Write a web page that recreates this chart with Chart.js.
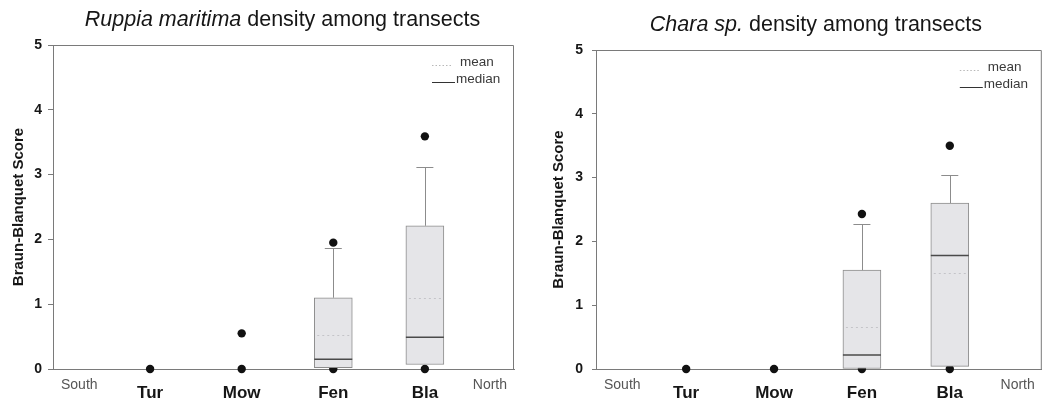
<!DOCTYPE html>
<html>
<head>
<meta charset="utf-8">
<script src="https://cdn.jsdelivr.net/npm/chart.js@4/dist/chart.umd.min.js"></script>
<style>
  html, body { margin: 0; padding: 0; background: #fff; }
  #wrap { position: relative; width: 1046px; height: 403px; overflow: hidden; }
  canvas { position: absolute; top: 0; }
</style>
</head>
<body>
<div id="wrap">
  <canvas id="ruppia" width="520" height="403" style="left:0"></canvas>
  <canvas id="chara" width="526" height="403" style="left:520px"></canvas>
</div>
<script>
// Transects, ordered south to north
const categories = ['Tur', 'Mow', 'Fen', 'Bla'];
const transectEnds = ['South', 'North'];
const scoreTicks = [0, 1, 2, 3, 4, 5];

// Ruppia maritima: Braun-Blanquet score summary per transect
const ruppiaQ1 = [0, 0, 0.02, 0.07];
const ruppiaMedian = [0, 0, 0.15, 0.49];
const ruppiaQ3 = [0, 0, 1.10, 2.21];
const ruppiaWhiskerTop = [0, 0, 1.86, 3.11];
const ruppiaMean = [0, 0.04, 0.52, 1.10];
const ruppiaOutliers = [[0], [0, 0.55], [0, 1.95], [0, 3.59]];

// Chara sp.: Braun-Blanquet score summary per transect
const charaQ1 = [0, 0, 0, 0.04];
const charaMedian = [0, 0, 0.22, 1.78];
const charaQ3 = [0, 0, 1.55, 2.60];
const charaWhiskerTop = [0, 0, 2.27, 3.04];
const charaMean = [0, 0, 0.66, 1.50];
const charaOutliers = [[0], [0], [0, 2.43], [0, 3.50]];

const FONT = "'Liberation Sans', Arial, sans-serif";
const INK = '#161616';
const AXIS = '#7a7a7a';

// Whiskers, caps, medians, means, frame, title, legend and end labels
const boxExtras = {
  id: 'boxExtras',
  afterDatasetsDraw(chart, args, o) {
    const { ctx, chartArea: a } = chart;
    const x = chart.scales.x, y = chart.scales.y;
    ctx.save();
    categories.forEach((c, i) => {
      const px = x.getPixelForValue(i + 1);
      const half = o.boxWidth / 2;
      if (o.q3[i] > o.q1[i]) {
        // upper whisker and cap
        const yTop = y.getPixelForValue(o.whisker[i]);
        const yQ3 = y.getPixelForValue(o.q3[i]);
        ctx.strokeStyle = '#8c8c8c';
        ctx.lineWidth = 1;
        ctx.beginPath();
        ctx.moveTo(Math.round(px) + 0.5, yQ3);
        ctx.lineTo(Math.round(px) + 0.5, yTop);
        ctx.moveTo(px - o.capWidth / 2, Math.round(yTop) + 0.5);
        ctx.lineTo(px + o.capWidth / 2, Math.round(yTop) + 0.5);
        ctx.stroke();
        // mean (dotted)
        const ym = Math.round(y.getPixelForValue(o.mean[i])) + 0.5;
        ctx.strokeStyle = '#c4c4c8';
        ctx.setLineDash([2, 3]);
        ctx.beginPath();
        ctx.moveTo(px - half + 3, ym);
        ctx.lineTo(px + half - 3, ym);
        ctx.stroke();
        ctx.setLineDash([]);
        // median
        const yMed = y.getPixelForValue(o.median[i]);
        ctx.strokeStyle = '#4a4a4a';
        ctx.lineWidth = 1.6;
        ctx.beginPath();
        ctx.moveTo(px - half, yMed);
        ctx.lineTo(px + half, yMed);
        ctx.stroke();
      }
    });
    ctx.restore();
  },
  afterDraw(chart, args, o) {
    const { ctx, chartArea: a } = chart;
    ctx.save();
    // frame top and right
    ctx.strokeStyle = AXIS;
    ctx.lineWidth = 1;
    ctx.beginPath();
    ctx.moveTo(a.left, a.top + 0.5);
    ctx.lineTo(a.right - 0.5, a.top + 0.5);
    ctx.lineTo(a.right - 0.5, a.bottom);
    ctx.stroke();

    // title: italic species name followed by regular text
    const size = o.titleSize;
    const fItal = `italic ${size}px ${FONT}`;
    const fReg = `${size}px ${FONT}`;
    ctx.font = fItal;
    const w1 = ctx.measureText(o.titleItalic).width;
    ctx.font = fReg;
    const w2 = ctx.measureText(o.titleRest).width;
    const cx = (a.left + a.right) / 2 + o.titleShift;
    let tx = cx - (w1 + w2) / 2;
    const ty = a.top - o.titleGap;
    ctx.fillStyle = INK;
    ctx.textBaseline = 'alphabetic';
    ctx.textAlign = 'left';
    ctx.font = fItal;
    ctx.fillText(o.titleItalic, tx, ty);
    ctx.font = fReg;
    ctx.fillText(o.titleRest, tx + w1, ty);

    // legend
    const lx0 = a.right - 82, lx1 = a.right - 59;
    const yMean = a.top + 21, yMed = a.top + 38;
    ctx.strokeStyle = '#b8b8b8';
    ctx.setLineDash([1.5, 2]);
    ctx.beginPath();
    ctx.moveTo(lx0, yMean - 0.5);
    ctx.lineTo(lx1 - 4, yMean - 0.5);
    ctx.stroke();
    ctx.setLineDash([]);
    ctx.strokeStyle = '#333';
    ctx.beginPath();
    ctx.moveTo(lx0, yMed - 0.5);
    ctx.lineTo(lx1, yMed - 0.5);
    ctx.stroke();
    ctx.font = `13.5px ${FONT}`;
    ctx.fillStyle = '#3a3a3a';
    ctx.fillText('mean', a.right - 54, yMean);
    ctx.fillText('median', a.right - 58, yMed);

    // transect end labels
    ctx.font = `14px ${FONT}`;
    ctx.fillStyle = '#555';
    ctx.textAlign = 'left';
    ctx.fillText(transectEnds[0], a.left + 8, a.bottom + 20);
    ctx.textAlign = 'right';
    ctx.fillText(transectEnds[1], a.right - 7, a.bottom + 20);
    ctx.restore();
  }
};

function makeChart(id, s) {
  const boxes = [];
  categories.forEach((c, i) => {
    if (s.q3[i] > s.q1[i]) boxes.push({ x: i + 1, y: [s.q1[i], s.q3[i]] });
  });
  const dots = [];
  s.outliers.forEach((vals, i) => vals.forEach(v => dots.push({ x: i + 1, y: v })));

  return new Chart(document.getElementById(id), {
    type: 'scatter',
    data: {
      datasets: [
        {
          type: 'bar',
          data: boxes,
          backgroundColor: '#e5e5e8',
          borderColor: '#8c8c8c',
          borderWidth: 1,
          borderSkipped: false,
          barThickness: s.boxWidth,
          grouped: false,
          order: 1
        },
        {
          type: 'scatter',
          data: dots,
          pointRadius: 4.2,
          pointBackgroundColor: '#111',
          pointBorderWidth: 0,
          clip: false,
          order: 2
        }
      ]
    },
    options: {
      responsive: false,
      animation: false,
      events: [],
      layout: { padding: { left: 0, top: s.top, right: s.right, bottom: 0 } },
      plugins: {
        legend: { display: false },
        tooltip: { enabled: false },
        boxExtras: {
          q1: s.q1, q3: s.q3, median: s.median, mean: s.mean, whisker: s.whisker,
          boxWidth: s.boxWidth, capWidth: 17,
          titleItalic: s.titleItalic, titleRest: s.titleRest,
          titleSize: 21.5, titleGap: 19, titleShift: s.titleShift
        }
      },
      scales: {
        x: {
          type: 'linear',
          min: s.xMin, max: s.xMax,
          offset: false,
          afterBuildTicks: sc => { sc.ticks = categories.map((c, i) => ({ value: i + 1 })); },
          afterFit: sc => { sc.height = 403 - s.bottom; },
          grid: { display: false, drawTicks: false, offset: false },
          border: { display: true, color: AXIS, width: 1 },
          ticks: {
            autoSkip: false, maxRotation: 0,
            padding: 14,
            color: INK,
            font: { family: FONT, size: 17, weight: 'bold' },
            callback: v => categories[v - 1]
          }
        },
        y: {
          min: 0, max: 5,
          afterBuildTicks: sc => { sc.ticks = scoreTicks.map(v => ({ value: v })); },
          afterFit: sc => { sc.width = s.axisX; },
          grid: { drawOnChartArea: false, drawTicks: true, tickLength: s.tickLen, color: AXIS },
          border: { display: true, color: AXIS, width: 1 },
          ticks: {
            padding: s.tickPad,
            color: INK,
            font: { family: FONT, size: 14, weight: 'bold' }
          },
          title: {
            display: true,
            text: 'Braun-Blanquet Score',
            color: INK,
            font: { family: FONT, size: 15, weight: 'bold' },
            padding: { top: s.yTitlePad, bottom: 0 }
          }
        }
      }
    },
    plugins: [boxExtras]
  });
}

makeChart('ruppia', {
  q1: ruppiaQ1, q3: ruppiaQ3, median: ruppiaMedian, mean: ruppiaMean,
  whisker: ruppiaWhiskerTop, outliers: ruppiaOutliers,
  titleItalic: 'Ruppia maritima', titleRest: ' density among transects',
  top: 45, bottom: 369, right: 6, axisX: 53, tickLen: 5, tickPad: 6, yTitlePad: 10,
  xMin: -0.06, xMax: 4.973, boxWidth: 38, titleShift: -1
});

makeChart('chara', {
  q1: charaQ1, q3: charaQ3, median: charaMedian, mean: charaMean,
  whisker: charaWhiskerTop, outliers: charaOutliers,
  titleItalic: 'Chara sp.', titleRest: ' density among transects',
  top: 50, bottom: 369, right: 0, axisX: 76, tickLen: 4, tickPad: 9, yTitlePad: 30,
  xMin: -0.026, xMax: 5.047, boxWidth: 38, titleShift: -3
});
</script>
</body>
</html>
